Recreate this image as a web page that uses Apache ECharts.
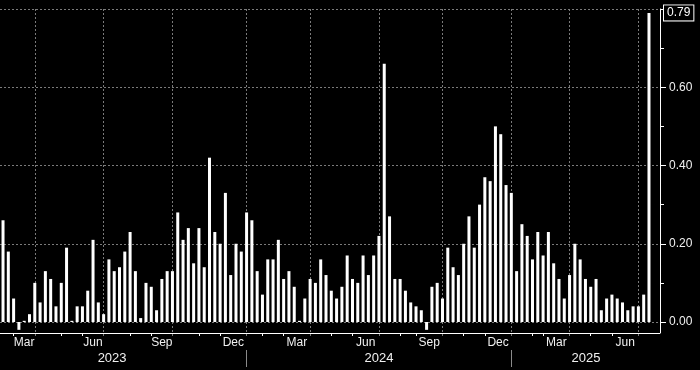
<!DOCTYPE html>
<html><head><meta charset="utf-8">
<script src="https://cdn.jsdelivr.net/npm/echarts@6/dist/echarts.min.js"></script>
<style>html,body{margin:0;padding:0;background:#000}#c{width:700px;height:370px}</style>
</head><body><div id="c"></div>
<script>
// weekly values, oldest first
const values = [0.26,0.18,0.06,-0.02,0.003,0.02,0.10,0.05,0.13,0.11,
0.04,0.10,0.19,0.003,0.04,0.04,0.08,0.21,0.05,0.02,
0.16,0.13,0.14,0.18,0.23,0.13,0.01,0.10,0.09,0.03,
0.11,0.13,0.13,0.28,0.21,0.24,0.15,0.24,0.14,0.42,
0.23,0.20,0.33,0.12,0.20,0.18,0.28,0.26,0.13,0.07,
0.16,0.16,0.21,0.11,0.13,0.09,0.003,0.06,0.11,0.10,
0.16,0.12,0.08,0.06,0.09,0.17,0.11,0.10,0.17,0.12,
0.17,0.22,0.66,0.27,0.11,0.11,0.08,0.05,0.04,0.03,
-0.02,0.09,0.10,0.06,0.19,0.14,0.12,0.20,0.27,0.19,
0.30,0.37,0.36,0.50,0.48,0.35,0.33,0.13,0.25,0.22,
0.16,0.23,0.17,0.23,0.15,0.11,0.06,0.12,0.20,0.16,
0.11,0.09,0.11,0.03,0.06,0.07,0.06,0.05,0.03,0.04,
0.04,0.07,0.79];
// bar indices where each month ends (axis ticks)
const monthEndIdx = [2,6,11,15,19,24,28,32,37,41,46,49,53,58,62,66,71,75,78,83,87,91,96,100,102,107,111,115,120];
// quarter ends (grid lines)
const quarterEndIdx = [6,19,32,46,58,71,83,96,107,120];
const monthLabelNames = ['Mar','Jun','Sep','Dec','Mar','Jun','Sep','Dec','Mar','Jun'];
const monthLabelPos = [4,17,30,43.5,55.5,68.5,80.5,93.5,104.5,117.5];
const yearLabelNames = ['2023','2024','2025'];
const yearLabelPos = [20.6,71,110.1];
const yearBreakIdx = [46,96];
const yTickLabels = [0,0.2,0.4,0.6,0.8];

const FONT = '"Liberation Sans", Arial, sans-serif';
const XMIN = -0.57, XMAX = 124.08;
const chart = echarts.init(document.getElementById('c'), null, {renderer:'canvas'});
chart.setOption({
  backgroundColor: '#000',
  animation: false,
  grid: {left: 0, right: 40, top: 9, bottom: 48},
  xAxis: [
    {type:'value', min:XMIN, max:XMAX, position:'bottom', offset:11,
     axisLine:{show:true, onZero:false, lineStyle:{color:'#fff', width:1}},
     axisTick:{show:true, customValues: monthEndIdx, length:3, lineStyle:{color:'#fff'}},
     axisLabel:{customValues: monthLabelPos, formatter: v => monthLabelNames[monthLabelPos.indexOf(v)] || '',
       color:'#f0f0f0', fontSize:12, fontFamily:FONT, margin:4},
     splitLine:{show:false}},
    {type:'value', min:XMIN, max:XMAX, position:'bottom', offset:0,
     axisLine:{show:false, onZero:false},
     axisTick:{show:true, customValues: quarterEndIdx, length:16, lineStyle:{color:'#7a7a7a', type:[2,2]}},
     axisLabel:{show:false},
     splitLine:{show:true, lineStyle:{color:'#7a7a7a', type:[2,2]}}},
    {type:'value', min:XMIN, max:XMAX, position:'bottom', offset:28,
     axisLine:{show:false, onZero:false},
     axisTick:{show:true, customValues: yearBreakIdx, length:17, lineStyle:{color:'#8a8a8a'}},
     axisLabel:{customValues: yearLabelPos, formatter: v => yearLabelNames[yearLabelPos.indexOf(v)] || '',
       color:'#f0f0f0', fontSize:13, fontFamily:FONT, margin:2},
     splitLine:{show:false}}
  ],
  yAxis: {type:'value', position:'right', min:0, max:0.8, interval:0.2,
    axisLine:{show:true, onZero:false, lineStyle:{color:'#fff'}},
    axisTick:{show:true, length:6, lineStyle:{color:'#fff'}},
    minorTick:{show:true, splitNumber:2, length:4, lineStyle:{color:'#fff'}},
    minorSplitLine:{show:false},
    axisLabel:{formatter: v => v.toFixed(2), showMaxLabel:false, color:'#f0f0f0', fontSize:12, fontFamily:FONT, margin:9},
    splitLine:{show:true, lineStyle:{color:'#7a7a7a', type:[2,2]}}
  },
  graphic: [{type:'line', shape:{x1:660.5, y1:322, x2:660.5, y2:333}, style:{stroke:'#fff', lineWidth:1}, silent:true}],
  series: [{
    type:'bar', xAxisIndex:0, yAxisIndex:0, clip:false,
    data: values.map((v,i) => [i, v]),
    barWidth:3, itemStyle:{color:'#fff'},
    markLine:{silent:true, symbol:'none',
      data:[{yAxis: values[values.length-1]}],
      lineStyle:{width:0, color:'rgba(0,0,0,0)'},
      label:{show:true, position:'end', distance:4, formatter: p => Number(p.value).toFixed(2),
        color:'#fff', backgroundColor:'#000', borderColor:'#fff', borderWidth:1, padding:[2,3,1,3],
        fontSize:12, fontFamily:FONT}}
  }]
});
</script></body></html>
